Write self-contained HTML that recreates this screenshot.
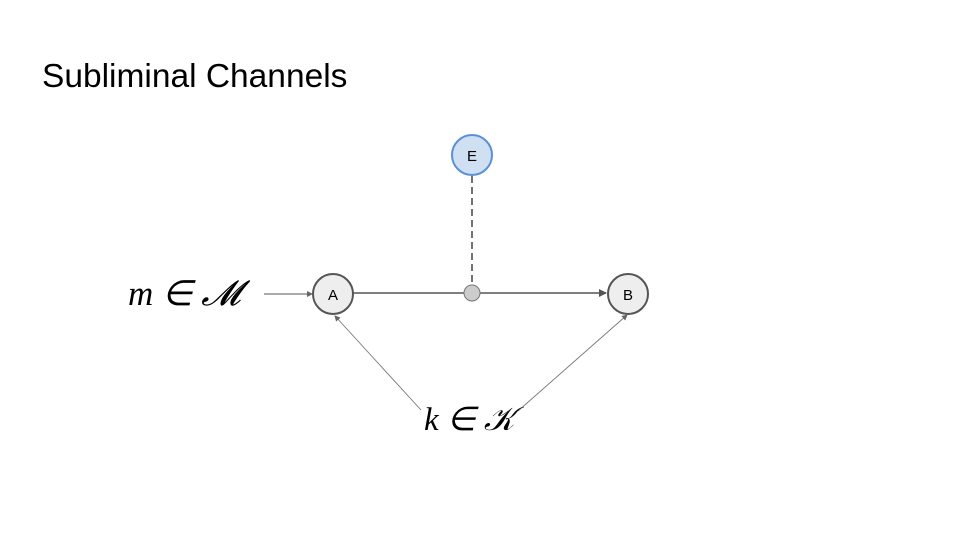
<!DOCTYPE html>
<html><head><style>
body{margin:0;background:#fff;}
</style></head><body>
<svg width="960" height="540" xmlns="http://www.w3.org/2000/svg">
<defs>
<marker id="ah" markerWidth="8" markerHeight="8" refX="7" refY="4" orient="auto" markerUnits="userSpaceOnUse"><path d="M0,0 L8,4 L0,8 z" fill="#555"/></marker>
<marker id="as" markerWidth="6" markerHeight="6" refX="5" refY="3" orient="auto" markerUnits="userSpaceOnUse"><path d="M0,0 L6,3 L0,6 z" fill="#666"/></marker>
</defs>
<text x="42" y="87" font-family="Liberation Sans, sans-serif" font-size="33.5" fill="#000">Subliminal Channels</text>
<line x1="472" y1="176" x2="472" y2="285" stroke="#444" stroke-width="1.5" stroke-dasharray="7,4"/>
<line x1="353" y1="293" x2="606" y2="293" stroke="#555" stroke-width="1.6" marker-end="url(#ah)"/>
<line x1="264" y1="294" x2="312" y2="294" stroke="#555" stroke-width="1" marker-end="url(#as)"/>
<line x1="421" y1="410" x2="335" y2="316" stroke="#777" stroke-width="0.9" marker-end="url(#as)"/>
<line x1="518" y1="411" x2="627" y2="315" stroke="#777" stroke-width="0.9" marker-end="url(#as)"/>
<circle cx="472" cy="155" r="20" fill="#cfe0f3" stroke="#5b8fd6" stroke-width="2"/>
<text x="472" y="161" text-anchor="middle" font-family="Liberation Sans, sans-serif" font-size="15">E</text>
<circle cx="333" cy="294" r="20" fill="#eee" stroke="#555" stroke-width="2"/>
<text x="333" y="300" text-anchor="middle" font-family="Liberation Sans, sans-serif" font-size="15">A</text>
<circle cx="628" cy="294" r="20" fill="#eee" stroke="#555" stroke-width="2"/>
<text x="628" y="300" text-anchor="middle" font-family="Liberation Sans, sans-serif" font-size="15">B</text>
<circle cx="472" cy="293" r="8" fill="#ccc" stroke="#777" stroke-width="1"/>
<text x="128" y="305" font-family="Liberation Serif, serif" font-size="35" font-style="italic">m ∈ 𝓜</text>
<text x="424" y="430" font-family="Liberation Serif, serif" font-size="33" font-style="italic">k ∈ 𝒦</text>
</svg>
</body></html>
